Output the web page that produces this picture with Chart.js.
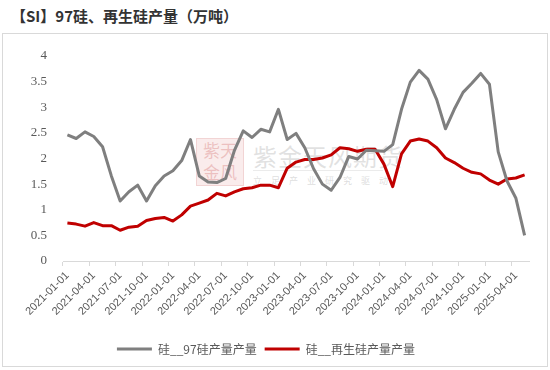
<!DOCTYPE html>
<html>
<head>
<meta charset="utf-8">
<script src="https://cdn.jsdelivr.net/npm/chart.js@4.4.1/dist/chart.umd.min.js"></script>
<style>
    body { margin: 0; width: 550px; height: 370px; background: #fff; position: relative; overflow: hidden; }
    #title { position: absolute; left: 11px; top: 5px; font: bold 15px "Noto Sans CJK SC", sans-serif; color: #333; white-space: nowrap; }
    #frame { position: absolute; left: 2px; top: 33px; width: 546px; height: 334px; box-sizing: border-box; border: 1px solid #d9d9d9; background: #fff; }
    #wm { position: absolute; left: 0; top: 0; width: 544px; height: 332px; pointer-events: none; }
    #seal { position: absolute; left: 193px; top: 104px; width: 46px; height: 46px; background: rgba(230, 150, 150, 0.18); border: 1px solid rgba(220, 140, 140, 0.25);
            font: 17px "Noto Sans CJK SC", sans-serif; color: rgba(210, 110, 110, 0.35); line-height: 22px; text-align: center; }
    #wmName { position: absolute; left: 250px; top: 104px; font: 24px "Noto Sans CJK SC", sans-serif; color: rgba(170, 170, 170, 0.35); letter-spacing: 1px; white-space: nowrap; }
    #wmLine { position: absolute; left: 250px; top: 136px; width: 130px; border-top: 1px solid rgba(190, 190, 190, 0.3); }
    #wmSub { position: absolute; left: 250px; top: 140px; font: 9px "Noto Sans CJK SC", sans-serif; color: rgba(170, 170, 170, 0.4); letter-spacing: 9px; white-space: nowrap; }
    #chartBox { position: absolute; left: 0; top: 0; width: 544px; height: 332px; }
</style>
</head>
<body>
<div id="title">【SI】97硅、再生硅产量（万吨）</div>
<div id="frame">
    <div id="wm">
        <div id="seal">紫天<br>金风</div>
        <div id="wmName">紫金天风期货</div>
        <div id="wmLine"></div>
        <div id="wmSub">立足产业研究驱动</div>
    </div>
    <div id="chartBox"><canvas id="siChart" width="544" height="332"></canvas></div>
</div>
<script>
// monthly categories
var months = [
    "2021-01-01", "2021-02-01", "2021-03-01", "2021-04-01", "2021-05-01", "2021-06-01", "2021-07-01", "2021-08-01", "2021-09-01", "2021-10-01", "2021-11-01", "2021-12-01",
    "2022-01-01", "2022-02-01", "2022-03-01", "2022-04-01", "2022-05-01", "2022-06-01", "2022-07-01", "2022-08-01", "2022-09-01", "2022-10-01", "2022-11-01", "2022-12-01",
    "2023-01-01", "2023-02-01", "2023-03-01", "2023-04-01", "2023-05-01", "2023-06-01", "2023-07-01", "2023-08-01", "2023-09-01", "2023-10-01", "2023-11-01", "2023-12-01",
    "2024-01-01", "2024-02-01", "2024-03-01", "2024-04-01", "2024-05-01", "2024-06-01", "2024-07-01", "2024-08-01", "2024-09-01", "2024-10-01", "2024-11-01", "2024-12-01",
    "2025-01-01", "2025-02-01", "2025-03-01", "2025-04-01", "2025-05-01"
];
var seriesNames = ["硅__97硅产量产量", "硅__再生硅产量产量"];
var si97 = [
    2.46, 2.39, 2.52, 2.43, 2.23, 1.66, 1.17, 1.35, 1.48, 1.17, 1.47, 1.66,
    1.76, 1.96, 2.37, 1.66, 1.54, 1.53, 1.61, 2.16, 2.54, 2.41, 2.57, 2.52,
    2.96, 2.37, 2.49, 2.21, 1.80, 1.50, 1.38, 1.63, 2.04, 1.99, 2.16, 2.15,
    2.14, 2.27, 2.96, 3.49, 3.72, 3.55, 3.15, 2.58, 2.96, 3.29, 3.47, 3.66,
    3.45, 2.13, 1.56, 1.23, 0.50
];
var siRecycled = [
    0.74, 0.72, 0.68, 0.75, 0.69, 0.69, 0.60, 0.66, 0.68, 0.79, 0.83, 0.85,
    0.78, 0.90, 1.07, 1.13, 1.19, 1.32, 1.27, 1.35, 1.41, 1.43, 1.48, 1.48,
    1.43, 1.81, 1.93, 1.98, 1.98, 2.01, 2.07, 2.21, 2.19, 2.14, 2.18, 2.18,
    1.89, 1.45, 2.09, 2.34, 2.38, 2.34, 2.21, 2.01, 1.92, 1.81, 1.73, 1.70,
    1.58, 1.50, 1.60, 1.62, 1.68
];
var yTicks = [0, 0.5, 1, 1.5, 2, 2.5, 3, 3.5, 4];
var labelEvery = 3;

var siCanvas = document.getElementById("siChart");
var siChart = new Chart(siCanvas, {
    type: 'line',
    data: {
        labels: months,
        datasets: [{
                label: seriesNames[0],
                data: si97,
                borderColor: '#7f7f7f',
                backgroundColor: '#7f7f7f',
                borderWidth: 3,
                pointRadius: 0,
                tension: 0,
                borderJoinStyle: 'round'
            }, {
                label: seriesNames[1],
                data: siRecycled,
                borderColor: '#c00000',
                backgroundColor: '#c00000',
                borderWidth: 3,
                pointRadius: 0,
                tension: 0,
                borderJoinStyle: 'round'
            }]
    },
    options: {
        responsive: false,
        animation: false,
        events: [],
        layout: {
            padding: { top: 22, right: 18, left: 0, bottom: 1 }
        },
        plugins: {
            tooltip: { enabled: false },
            legend: {
                position: 'bottom',
                labels: {
                    usePointStyle: true,
                    pointStyle: 'line',
                    pointStyleWidth: 35,
                    boxHeight: 12,
                    padding: 8,
                    color: '#595959',
                    font: { family: '"Noto Sans CJK SC", sans-serif', size: 12 }
                }
            }
        },
        scales: {
            x: {
                offset: true,
                afterFit: function (scale) { scale.height = 74; },
                grid: {
                    offset: true,
                    drawOnChartArea: false,
                    drawTicks: true,
                    tickLength: 5,
                    tickColor: function (ctx) { return ctx.index % labelEvery === 0 ? '#d9d9d9' : 'rgba(0,0,0,0)'; }
                },
                border: { display: true, color: '#d9d9d9', width: 1 },
                ticks: {
                    autoSkip: false,
                    minRotation: 45,
                    maxRotation: 45,
                    padding: 3,
                    color: '#595959',
                    font: { family: '"Liberation Sans", sans-serif', size: 11 },
                    callback: function (value, index) { return index % labelEvery === 0 ? months[index] : ''; }
                }
            },
            y: {
                min: yTicks[0],
                max: yTicks[yTicks.length - 1],
                afterFit: function (scale) { scale.width = 60; },
                afterBuildTicks: function (scale) { scale.ticks = yTicks.map(function (v) { return { value: v }; }); },
                grid: { display: false },
                border: { display: false },
                ticks: {
                    padding: 8,
                    color: '#595959',
                    font: { family: '"Liberation Serif", serif', size: 13 },
                    callback: function (value) { return String(value); }
                }
            }
        }
    }
});
</script>
</body>
</html>
